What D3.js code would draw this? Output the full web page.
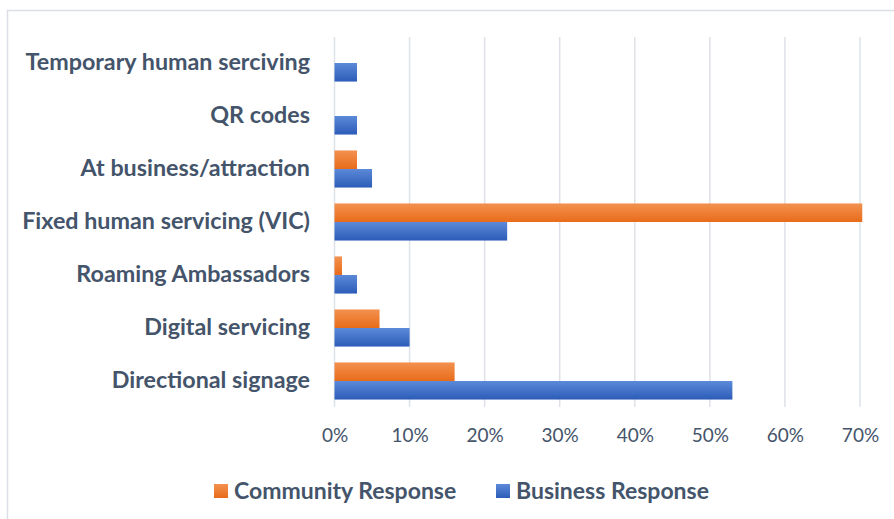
<!DOCTYPE html>
<html>
<head>
<meta charset="utf-8">
<script src="https://cdn.jsdelivr.net/npm/d3@7"></script>
<style>
html,body{margin:0;padding:0;background:#fff;}
svg{display:block;}
</style>
</head>
<body>
<svg id="chart" width="894" height="519"></svg>
<script>
const categories = ["Temporary human serciving","QR codes","At business/attraction","Fixed human servicing (VIC)","Roaming Ambassadors","Digital servicing","Directional signage"];
const communityValues = [0, 0, 0.03, 0.703, 0.01, 0.06, 0.16];
const businessValues  = [0.03, 0.03, 0.05, 0.23, 0.03, 0.10, 0.53];
const seriesNames = ["Community Response","Business Response"];
const tickValues = [0,0.1,0.2,0.3,0.4,0.5,0.6,0.7];

const svg = d3.select("#chart");
const textColor = "#44546A";
const font = "Lato, 'Open Sans', sans-serif";

const defs = svg.append("defs");
function grad(id, top, bottom){
  const g = defs.append("linearGradient").attr("id", id).attr("x1",0).attr("y1",0).attr("x2",0).attr("y2",1);
  g.append("stop").attr("offset","0%").attr("stop-color", top);
  g.append("stop").attr("offset","100%").attr("stop-color", bottom);
}
grad("gOrange", "#F3914F", "#E86C1A");
grad("gBlue", "#5C89D8", "#2C5CB8");

// frame
svg.append("path").attr("d","M7.5,519 V10.5 H894").attr("fill","none").attr("stroke","#DCE0E6").attr("stroke-width",1.5);

const x = d3.scaleLinear().domain([0,0.7]).range([334.5, 860]);
const y = d3.scaleBand().domain(categories).range([36.5, 407.5]).paddingInner(0.3).paddingOuter(0.15);
const sub = d3.scaleBand().domain(seriesNames).range([0, y.bandwidth()]);

// gridlines
svg.append("g").selectAll("line").data(tickValues).join("line")
  .attr("x1", d=>x(d)).attr("x2", d=>x(d))
  .attr("y1", 37).attr("y2", 407)
  .attr("stroke", "#DEE2E8").attr("stroke-width", 1.5);

// x tick labels via axis
const xAxis = d3.axisBottom(x).tickValues(tickValues).tickFormat(d3.format(".0%")).tickSize(0).tickPadding(0);
const gx = svg.append("g").attr("transform","translate(0,428)").call(xAxis);
gx.select(".domain").remove();
gx.selectAll("text").attr("fill", textColor).attr("font-family", font).attr("font-size", 19).attr("dy","0.72em");

// y labels via axis
const yAxis = d3.axisLeft(y).tickSize(0).tickPadding(0);
const gy = svg.append("g").attr("transform","translate(310,0)").call(yAxis);
gy.select(".domain").remove();
gy.selectAll("text").attr("fill", textColor).attr("font-family", font).attr("font-weight", "bold").attr("font-size", 23.3);

// bars
const data = categories.map((c,i)=>({c, vals:[{s:seriesNames[0], v:communityValues[i]},{s:seriesNames[1], v:businessValues[i]}]}));
const fills = {"Community Response":"url(#gOrange)","Business Response":"url(#gBlue)"};
svg.append("g").selectAll("g").data(data).join("g")
  .attr("transform", d=>`translate(0,${y(d.c)})`)
  .selectAll("rect").data(d=>d.vals).join("rect")
  .attr("x", x(0)).attr("y", d=>sub(d.s))
  .attr("width", d=>x(d.v)-x(0)).attr("height", sub.bandwidth())
  .attr("fill", d=>fills[d.s]);

// legend
const legendPos = [{name:seriesNames[0], x:214},{name:seriesNames[1], x:496}];
const lg = svg.append("g").selectAll("g").data(legendPos).join("g").attr("transform", d=>`translate(${d.x},484)`);
lg.append("rect").attr("width",14).attr("height",14).attr("fill", d=>fills[d.name]);
lg.append("text").attr("x",20).attr("y",7).attr("dy","0.35em").text(d=>d.name)
  .attr("fill", textColor).attr("font-family", font).attr("font-weight","bold").attr("font-size",23);
</script>
</body>
</html>
